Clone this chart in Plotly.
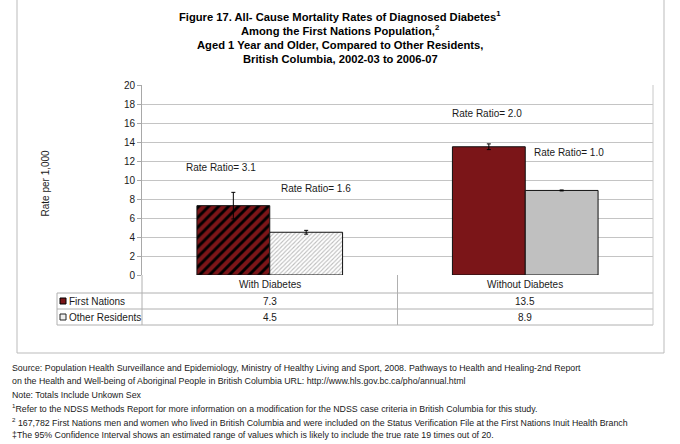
import plotly.graph_objects as go

# ---- data ----
categories = ["With Diabetes", "Without Diabetes"]
series_names = ["First Nations", "Other Residents"]
first_nations = [7.3, 13.5]
other_residents = [4.5, 8.9]
fn_err = [1.4, 0.3]
or_err = [0.2, 0.05]
ratio_labels = ["Rate Ratio= 3.1", "Rate Ratio= 1.6", "Rate Ratio= 2.0", "Rate Ratio= 1.0"]
ratio_pos = [(-0.19, 11.3), (0.18, 9.15), (0.85, 16.95), (1.17, 12.85)]
y_ticks = [0, 2, 4, 6, 8, 10, 12, 14, 16, 18, 20]
title_lines = [
    "Figure 17. All- Cause Mortality Rates of Diagnosed Diabetes<sup>1</sup>",
    "Among the First Nations Population,<sup>2</sup>",
    "Aged 1 Year and Older, Compared to Other Residents,",
    "British Columbia, 2002-03 to 2006-07",
]
footnotes = [
    "Source: Population Health Surveillance and Epidemiology, Ministry of Healthy Living and Sport, 2008. Pathways to Health and Healing-2nd Report",
    "on the Health and Well-being of Aboriginal People in British Columbia URL: http://www.hls.gov.bc.ca/pho/annual.html",
    "Note: Totals Include Unkown Sex",
    "<sup>1</sup>Refer to the NDSS Methods Report for more information on a modification for the NDSS case criteria in British Columbia for this study.",
    "<sup>2</sup> 167,782 First Nations men and women who lived in British Columbia and were included on the Status Verification File at the First Nations Inuit Health Branch",
    "\u2021The 95% Confidence Interval shows an estimated range of values which is likely to include the true rate 19 times out of 20.",
]

W, H = 680, 444
L, R, T, B = 142, 27, 85, 169
PW, PH = W - L - R, H - T - B

def px(x):
    return (x - L) / PW

def py(y):
    return (H - B - y) / PH

RED = "#7B1518"
GRAY = "#C0C0C0"
FONT = "Liberation Sans, Arial, sans-serif"
TXT = "#1a1a1a"
BW = 0.285  # bar width in category units

fig = go.Figure()
for i in range(len(categories)):
    patterned = (i == 0)
    fig.add_bar(
        x=[i], y=[first_nations[i]], name=series_names[0], offset=-BW, width=BW,
        marker=dict(
            color=RED, line=dict(color="#111111", width=1),
            pattern=dict(shape="/" if patterned else "", fgcolor="#000000", fgopacity=1,
                         size=7, solidity=0.42, fillmode="overlay"),
        ),
        error_y=dict(type="data", array=[fn_err[i]], color="#000000", thickness=1, width=2),
    )
    fig.add_bar(
        x=[i], y=[other_residents[i]], name=series_names[1], offset=0, width=BW,
        marker=dict(
            color="#FFFFFF" if patterned else GRAY, line=dict(color="#111111", width=1),
            pattern=dict(shape="/" if patterned else "", fgcolor="#BDBDBD", fgopacity=1,
                         size=3, solidity=0.35, fillmode="overlay"),
        ),
        error_y=dict(type="data", array=[or_err[i]], color="#000000", thickness=1, width=2),
    )

ann = []
# title
for i, line in enumerate(title_lines):
    ann.append(dict(text="<b>" + line + "</b>", x=px(340), y=py(16 + i * 14.4), xref="paper", yref="paper",
                    showarrow=False, xanchor="center", yanchor="middle",
                    font=dict(family=FONT, size=11.2, color="#000")))
# rate ratios
for t, (xx, yy) in zip(ratio_labels, ratio_pos):
    ann.append(dict(text=t, x=xx, y=yy, xref="x", yref="y", showarrow=False,
                    font=dict(family=FONT, size=10, color=TXT)))
# y title
ann.append(dict(text="Rate per 1,000", x=px(37), y=py(183), xref="paper", yref="paper",
                textangle=-90, showarrow=False, font=dict(family=FONT, size=10, color=TXT)))
# table
for i, c in enumerate(categories):
    ann.append(dict(text=c, x=i, y=py(284), xref="x", yref="paper", showarrow=False,
                    yanchor="middle", font=dict(family=FONT, size=10, color=TXT)))
    ann.append(dict(text=f"{first_nations[i]:.1f}", x=i, y=py(301), xref="x", yref="paper",
                    showarrow=False, yanchor="middle", font=dict(family=FONT, size=10, color=TXT)))
    ann.append(dict(text=f"{other_residents[i]:.1f}", x=i, y=py(317), xref="x", yref="paper",
                    showarrow=False, yanchor="middle", font=dict(family=FONT, size=10, color=TXT)))
for j, (name, yy) in enumerate(zip(series_names, [301, 317])):
    ann.append(dict(text=name, x=px(67), y=py(yy), xref="paper", yref="paper", showarrow=False,
                    xanchor="left", yanchor="middle", font=dict(family=FONT, size=10, color=TXT)))
# footnotes
for i, f in enumerate(footnotes):
    ann.append(dict(text=f, x=px(10), y=py(368 + i * 13.4), xref="paper", yref="paper", showarrow=False,
                    xanchor="left", yanchor="middle", font=dict(family=FONT, size=8.8, color=TXT)))

LC = "#B0B0B0"
shapes = []
def hline(x0, x1, y, color=LC):
    shapes.append(dict(type="line", xref="paper", yref="paper", x0=px(x0), x1=px(x1), y0=py(y), y1=py(y),
                       line=dict(color=color, width=1)))
def vline(x, y0, y1, color=LC):
    shapes.append(dict(type="line", xref="paper", yref="paper", x0=px(x), x1=px(x), y0=py(y0), y1=py(y1),
                       line=dict(color=color, width=1)))

for yy in [293, 309, 325]:
    hline(57, 653, yy)
vline(57, 293, 325)
vline(142, 275, 325)
shapes.append(dict(type="line", xref="x", yref="paper", x0=0.5, x1=0.5, y0=0, y1=py(325),
                   line=dict(color=LC, width=1)))
vline(653, 85, 325, color="#C8C8C8")
# outer chart border
vline(17, 0, 353, color="#BBBBBB")
vline(664, 0, 353, color="#BBBBBB")
hline(17, 664, 353, color="#BBBBBB")
# legend keys
shapes.append(dict(type="rect", xref="paper", yref="paper", x0=px(60), x1=px(66), y0=py(298), y1=py(304),
                   fillcolor=RED, line=dict(color="#000", width=1)))
shapes.append(dict(type="rect", xref="paper", yref="paper", x0=px(60), x1=px(66), y0=py(314), y1=py(320),
                   fillcolor="#EEEEEE", line=dict(color="#222", width=1)))

fig.update_layout(
    width=W, height=H, margin=dict(l=L, r=R, t=T, b=B, pad=0),
    paper_bgcolor="white", plot_bgcolor="white",
    barmode="overlay",
    showlegend=False,
    font=dict(family=FONT, size=10, color=TXT),
    annotations=ann, shapes=shapes,
    xaxis=dict(range=[-0.5, 1.5], showticklabels=False, showgrid=False, zeroline=False,
               showline=False, ticks=""),
    yaxis=dict(range=[0, 20], tickvals=y_ticks, showgrid=True, gridcolor="#C4C4C4", gridwidth=1,
               zeroline=False, showline=True, linecolor="#A8A8A8", linewidth=1,
               ticks="outside", ticklen=4, tickcolor="#A8A8A8",
               tickfont=dict(family=FONT, size=10, color=TXT)),
)
fig.write_html("out.html")
